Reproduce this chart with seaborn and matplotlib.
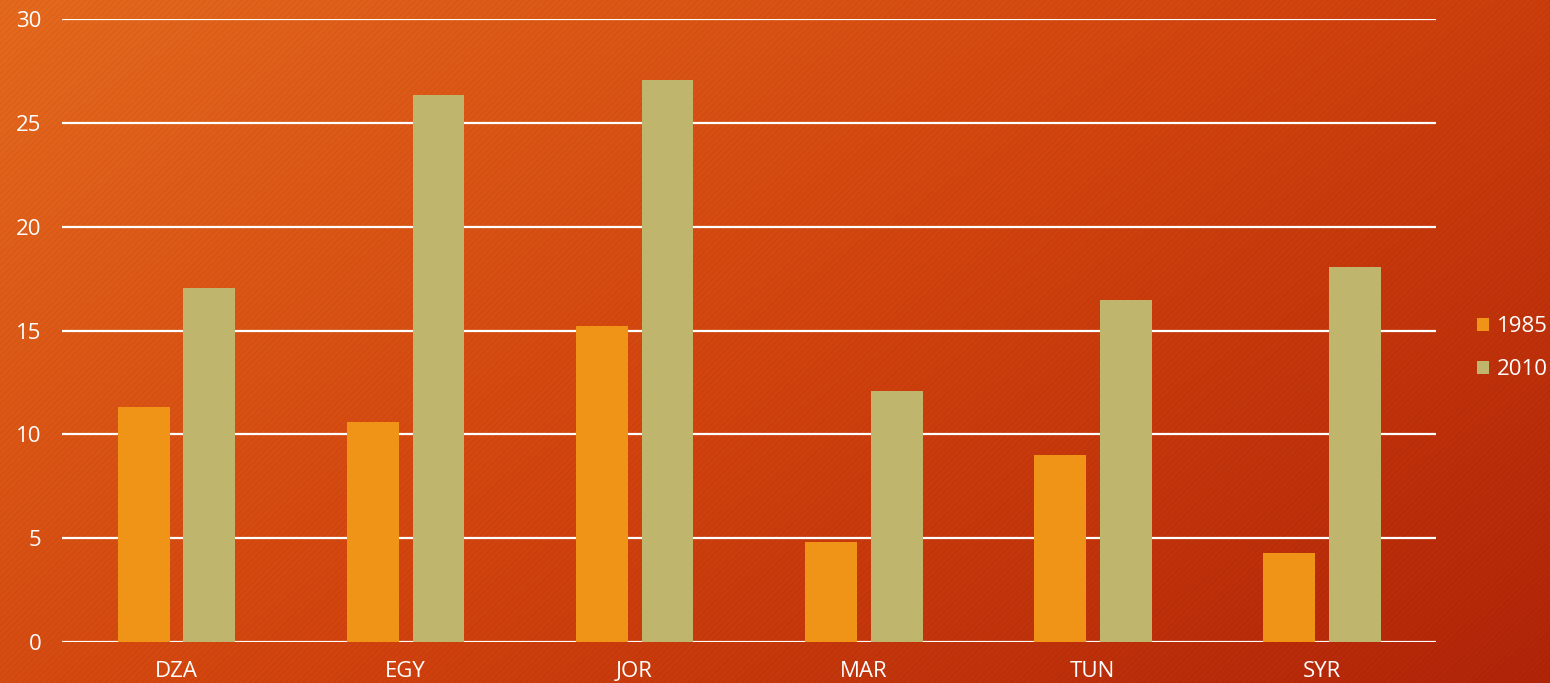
#!/usr/bin/env python3
"""Grouped bar chart, 1985 vs 2010, on an orange gradient background."""

import matplotlib

matplotlib.use("Agg")
import matplotlib.pyplot as plt
from matplotlib.patches import Patch
import numpy as np
import pandas as pd
import seaborn as sns

countries = ["DZA", "EGY", "JOR", "MAR", "TUN", "SYR"]
years = ["1985", "2010"]
values_1985 = [11.3, 10.6, 15.2, 4.8, 9.0, 4.3]
values_2010 = [17.05, 26.35, 27.05, 12.1, 16.45, 18.05]
y_ticks = [0, 5, 10, 15, 20, 25, 30]

bar_colors = {"1985": "#F09418", "2010": "#C0B56C"}

df = pd.DataFrame(
    {
        "Country": countries * 2,
        "Year": [years[0]] * len(countries) + [years[1]] * len(countries),
        "Value": values_1985 + values_2010,
    }
)

sns.set_theme(style="white")
plt.rcParams["font.family"] = ["Open Sans", "DejaVu Sans"]

fig = plt.figure(figsize=(15.5, 6.83), dpi=100)

# background: diagonal gradient with faint stripes
h, w = 683, 1550
yy, xx = np.mgrid[0:h, 0:w]
t = (xx / w * 0.6 + yy / h * 0.4)
start = np.array([230, 106, 30]) / 255
mid = np.array([211, 68, 14]) / 255
end = np.array([178, 36, 8]) / 255
t3 = t[..., None]
img = np.where(t3 < 0.5, start + (mid - start) * (t3 / 0.5), mid + (end - mid) * ((t3 - 0.5) / 0.5))
stripes = ((xx + yy) % 6 < 3).astype(float)
img = img * (1 - 0.03 * stripes[..., None])
bg = fig.add_axes([0, 0, 1, 1], zorder=-10)
bg.imshow(np.clip(img, 0, 1), aspect="auto", extent=[0, 1, 0, 1])
bg.axis("off")

ax = fig.add_axes([0.04, 0.06, 0.8865, 0.9122])
ax.patch.set_alpha(0)
sns.barplot(
    data=df,
    x="Country",
    y="Value",
    hue="Year",
    palette=bar_colors,
    width=0.576,
    gap=0.212,
    ax=ax,
    legend=False,
    saturation=1,
    edgecolor="none",
)

ax.set_ylim(0, 30)
ax.set_yticks(y_ticks)
ax.set_xlim(-0.5, len(countries) - 0.5)
for y in y_ticks:
    ax.axhline(y, color="white", lw=1.6, zorder=0)
for s in ax.spines.values():
    s.set_visible(False)
ax.set_xlabel("")
ax.set_ylabel("")
ax.tick_params(axis="y", length=0, pad=15, labelsize=16, labelcolor="white")
ax.tick_params(axis="x", length=0, pad=14, labelsize=16, labelcolor="white")

handles = [Patch(facecolor=bar_colors[yr], edgecolor="none") for yr in years]
fig.legend(
    handles,
    years,
    loc="center left",
    bbox_to_anchor=(0.953, 0.49),
    frameon=False,
    fontsize=16,
    labelcolor="white",
    handlelength=0.55,
    handleheight=0.55,
    handletextpad=0.35,
    labelspacing=1.0,
    borderpad=0,
    borderaxespad=0,
)

fig.savefig("out.png", dpi=100)
